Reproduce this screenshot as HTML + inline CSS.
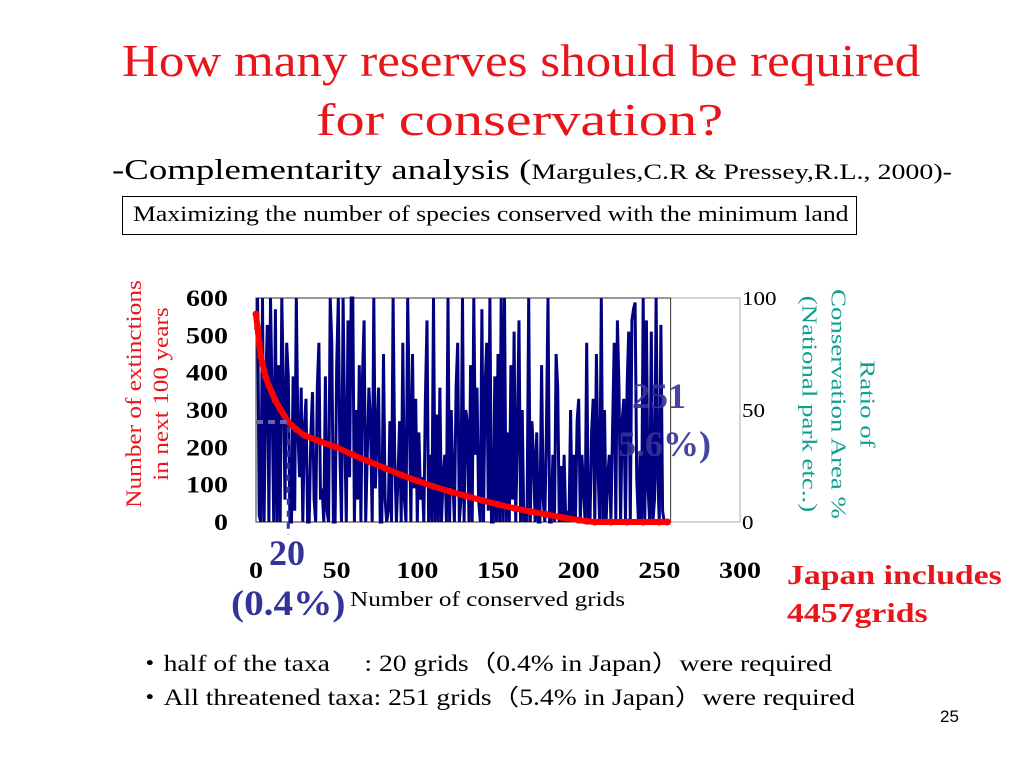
<!DOCTYPE html>
<html><head><meta charset="utf-8">
<style>
body{margin:0;width:1024px;height:768px;background:#fff;overflow:hidden;font-family:"Liberation Serif",serif;}
.t{position:absolute;white-space:nowrap;transform-origin:0 0;}
</style></head>
<body>
<div class="t" style="left:122px;top:34px;font-size:46px;color:#e8161b;transform:scaleX(1.11);">How many reserves should be required</div>
<div class="t" style="left:316px;top:93px;font-size:46px;color:#e8161b;transform:scaleX(1.27);">for conservation?</div>
<div class="t" style="left:112px;top:154px;font-size:29px;color:#000;transform:scaleX(1.27);">-Complementarity analysis (<span style="font-size:22px">Margules,C.R &amp; Pressey,R.L., 2000)-</span></div>
<div style="position:absolute;left:122px;top:196px;width:733px;height:37px;border:1px solid #000;"></div>
<div class="t" style="left:133px;top:201px;font-size:22px;transform:scaleX(1.17);">Maximizing the number of species conserved with the minimum land</div>

<svg width="1024" height="768" style="position:absolute;left:0;top:0">
<g id="plot"></g>
</svg>

<div class="t" style="left:147px;top:394px;transform:translate(-50%,-50%) rotate(-90deg) scaleX(1.15);transform-origin:50% 50%;font-size:22px;color:#e8161b;text-align:center;line-height:27px;">Number of extinctions<br>in next 100 years</div>
<div class="t" style="left:838px;top:404px;transform:translate(-50%,-50%) rotate(90deg) scaleX(1.28);transform-origin:50% 50%;font-size:21px;color:#10a090;text-align:center;line-height:29px;">Ratio of<br>Conservation Area %<br>(National park etc..)</div>
<div class="t" style="left:350px;top:587px;font-size:21px;transform:scaleX(1.2);">Number of conserved grids</div>
<div class="t" style="left:632px;top:375px;font-size:36px;font-weight:bold;color:#333399;opacity:.9">251</div>
<div class="t" style="left:618px;top:423px;font-size:36px;font-weight:bold;color:#333399;opacity:.9">5.6%)</div>
<div class="t" style="left:269px;top:532px;font-size:36px;font-weight:bold;color:#333399;">20</div>
<div class="t" style="left:231px;top:582px;font-size:36px;font-weight:bold;color:#333399;transform:scaleX(1.09);">(0.4%)</div>
<div class="t" style="left:787px;top:556px;font-size:27px;font-weight:bold;color:#e8161b;line-height:38px;transform:scaleX(1.25);">Japan includes<br>4457grids</div>
<div class="t" style="left:136px;top:644px;font-size:23px;transform:scaleX(1.2);">・half of the taxa　 : 20 grids（0.4% in Japan）were required</div>
<div class="t" style="left:136px;top:678px;font-size:23px;transform:scaleX(1.2);">・All threatened taxa: 251 grids（5.4% in Japan）were required</div>
<div class="t" style="left:940px;top:707px;font-size:17px;font-family:'Liberation Sans',sans-serif;">25</div>

<script>
const xTicks=[0,50,100,150,200,250,300];
const yTicksLeft=[0,100,200,300,400,500,600];
const yTicksRight=[0,50,100];
const extinctionX=[0,1,2,3,4,5,6,8,10,12,15,20,25,30,40,50,60,70,80,90,100,110,120,130,140,150,160,170,180,190,200,205,210,220,230,240,250,255];
const extinctionValues=[557,519,478,443,424,405,388,365,345,325,302,268,248,232,215,200,180,162,144,126,110,95,82,70,58,47,37,28,20,12,5,2,0,0,0,0,0,0];
const ratioValues=[100,3,0,100,0,60,88,0,100,55,0,95,0,70,0,100,60,10,80,65,0,0,65,5,100,40,20,60,0,42,55,0,0,40,58,10,0,60,80,10,15,0,65,5,0,100,80,0,0,70,100,30,0,100,40,0,90,20,100,100,0,50,10,70,0,65,90,0,30,60,45,0,100,15,40,60,0,0,75,10,0,5,45,0,100,30,0,20,45,0,80,10,0,100,50,0,75,15,55,0,40,10,20,0,55,90,0,30,0,100,0,48,0,60,0,20,30,0,100,0,50,20,0,60,80,0,10,100,0,50,45,0,70,0,100,30,60,10,0,95,0,60,80,5,100,0,0,65,0,75,0,100,0,100,0,40,0,70,10,85,0,40,90,0,50,0,5,0,100,0,45,30,0,40,0,0,70,10,0,40,100,0,0,30,0,75,60,0,25,0,30,0,5,0,50,0,30,0,45,55,0,30,15,0,80,0,0,40,55,0,75,25,0,100,0,50,0,20,30,0,40,80,0,90,60,0,45,55,0,60,85,0,90,95,98,20,0,30,0,100,0,90,15,0,85,0,10,100,20,0,88,5,0];
const X0=256,X1=740,Y0=522,Y1=298;
const xs=v=>X0+(v-0)/300*(X1-X0);
const yl=v=>Y0-v/600*(Y0-Y1);
const yr=v=>Y0-v/100*(Y0-Y1);
const NS='http://www.w3.org/2000/svg';
const g=document.getElementById('plot');
function mk(t,a){const e=document.createElementNS(NS,t);for(const k in a)e.setAttribute(k,a[k]);g.appendChild(e);return e;}
const outer=mk('rect',{x:X0,y:Y1,width:X1-X0,height:Y0-Y1,fill:'none',stroke:'#aaa','stroke-width':1});


const inner=mk('rect',{x:X0,y:Y1,width:xs(257)-X0,height:Y0-Y1,fill:'none',stroke:'#333','stroke-width':1});


let pts=ratioValues.map((v,i)=>xs(i+1).toFixed(1)+','+yr(v).toFixed(1)).join(' ');
const bl=mk('polyline',{points:pts,fill:'none',stroke:'#000080','stroke-width':3});


let rp=extinctionX.map((x,i)=>xs(x).toFixed(1)+','+yl(extinctionValues[i]).toFixed(1)).join(' ');
const rl=mk('polyline',{points:rp,fill:'none',stroke:'#ff0000','stroke-width':6,'stroke-linejoin':'round'});


extinctionX.forEach((x,i)=>{const c=mk('circle',{cx:xs(x),cy:yl(extinctionValues[i]),r:3.5,fill:'#ff0000'});

});
const dl=mk('line',{x1:xs(20),y1:yl(255),x2:xs(20),y2:535,stroke:'#333399','stroke-width':3,'stroke-dasharray':'6,6'});


const hl=mk('line',{x1:256,y1:yl(268),x2:xs(20),y2:yl(268),stroke:'#6666aa','stroke-width':4,'stroke-dasharray':'7,5'});


yTicksLeft.forEach(v=>{const s=String(v);const t=mk('text',{x:228,y:yl(v)+8,'text-anchor':'end','font-size':23,'font-weight':'bold','font-family':'Liberation Serif',textLength:s.length*14,lengthAdjust:'spacingAndGlyphs'});t.textContent=s;

});
yTicksRight.forEach(v=>{const s=String(v);const t=mk('text',{x:742,y:yr(v)+7,'font-size':20,'font-family':'Liberation Serif',textLength:s.length*11.5,lengthAdjust:'spacingAndGlyphs'});t.textContent=s;

});
xTicks.forEach(v=>{const s=String(v);const t=mk('text',{x:xs(v),y:578,'text-anchor':'middle','font-size':23,'font-weight':'bold','font-family':'Liberation Serif',textLength:s.length*14,lengthAdjust:'spacingAndGlyphs'});t.textContent=s;

});
</script>
</body></html>
